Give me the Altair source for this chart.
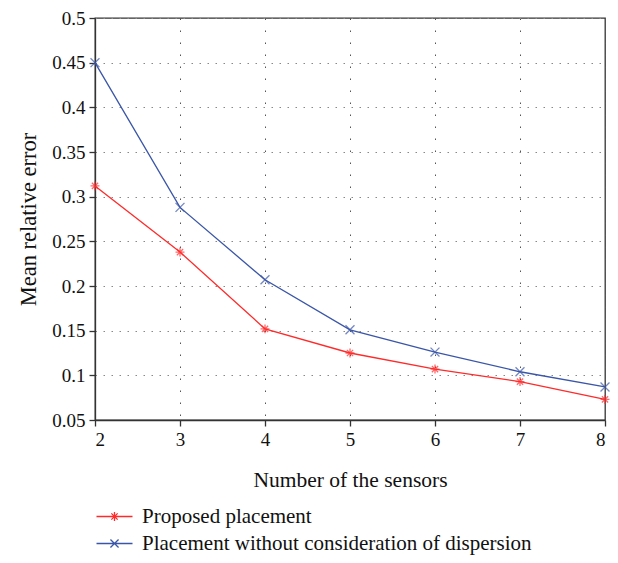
import altair as alt
import pandas as pd

sensors = [2, 3, 4, 5, 6, 7, 8]
proposed = [0.312, 0.238, 0.152, 0.125, 0.107, 0.093, 0.073]
without_disp = [0.450, 0.288, 0.207, 0.151, 0.126, 0.104, 0.087]
series_names = ["Proposed placement", "Placement without consideration of dispersion"]
series_colors = ["#ff2a2a", "#3a56a8"]
y_ticks = [0.05, 0.1, 0.15, 0.2, 0.25, 0.3, 0.35, 0.4, 0.45, 0.5]

rows = []
for x, v in zip(sensors, proposed):
    rows.append({"n": x, "err": v, "series": series_names[0], "label": series_names[0]})
for x, v in zip(sensors, without_disp):
    rows.append({"n": x, "err": v, "series": series_names[1], "label": series_names[1]})
df = pd.DataFrame(rows)

FONT = "Liberation Serif"
asterisk = "M0,-1L0,1M-1,0L1,0M-0.7,-0.7L0.7,0.7M-0.7,0.7L0.7,-0.7"
xmark = "M-1,-1L1,1M-1,1L1,-1"
ast_leg = "M-2,0L2,0M0,-0.5L0,0.5M-0.35,-0.35L0.35,0.35M-0.35,0.35L0.35,-0.35"
x_leg = "M-2,0L2,0M-0.45,-0.45L0.45,0.45M-0.45,0.45L0.45,-0.45"

x_enc = alt.X("n:Q", scale=alt.Scale(domain=[2, 8], nice=False, zero=False),
              axis=alt.Axis(values=sensors, format="d", title="Number of the sensors",
                            gridDash=[1.5, 10.5], gridColor="#555", titlePadding=20,
                            titleFontSize=21.5))
y_enc = alt.Y("err:Q", scale=alt.Scale(domain=[0.05, 0.5], nice=False, zero=False),
              axis=alt.Axis(values=y_ticks, format=".2~f", title="Mean relative error",
                            gridDash=[1.5, 6.5], gridColor="#888", titlePadding=11,
                            titleFontSize=22.5))
color_main = alt.Color("series:N", scale=alt.Scale(domain=series_names, range=series_colors), legend=None)

lines = alt.Chart(df).mark_line(strokeWidth=1.3).encode(x=x_enc, y=y_enc, color=color_main)
points = alt.Chart(df).mark_point(filled=False, strokeWidth=1.3, size=80).encode(
    x="n:Q", y="err:Q", color=color_main,
    shape=alt.Shape("series:N", scale=alt.Scale(domain=series_names, range=[asterisk, xmark]), legend=None))
legend_layer = alt.Chart(df).mark_point(filled=False, opacity=0, strokeWidth=1.3).encode(
    x="n:Q", y="err:Q",
    color=alt.Color("label:N", scale=alt.Scale(domain=series_names, range=series_colors),
                    legend=alt.Legend(title=None)),
    shape=alt.Shape("label:N", scale=alt.Scale(domain=series_names, range=[ast_leg, x_leg]),
                    legend=alt.Legend(title=None)))

chart = alt.layer(lines, points, legend_layer).resolve_scale(
    color="independent", shape="independent"
).properties(
    width=510, height=402,
    autosize=alt.AutoSizeParams(type="none"),
    padding={"left": 87, "top": 10, "right": 5, "bottom": 135},
).configure_view(stroke="#333", strokeWidth=1.3).configure_axis(
    domainColor="#333", domainWidth=1.3, tickColor="#333", tickWidth=1.3, tickSize=6,
    labelFont=FONT, titleFont=FONT, labelFontSize=19, titleFontSize=21,
    titleFontWeight="normal", labelColor="#111", titleColor="#111", labelPadding=4,
).configure_legend(
    orient="none", legendX=9, legendY=488, symbolSize=324, symbolOpacity=1,
    symbolStrokeWidth=1.3, labelFont=FONT, labelFontSize=21, labelColor="#111",
    rowPadding=5, labelOffset=17, labelLimit=0, symbolType="circle", padding=0,
)

chart.save("out.html", embed_options={"renderer": "svg", "actions": False})
